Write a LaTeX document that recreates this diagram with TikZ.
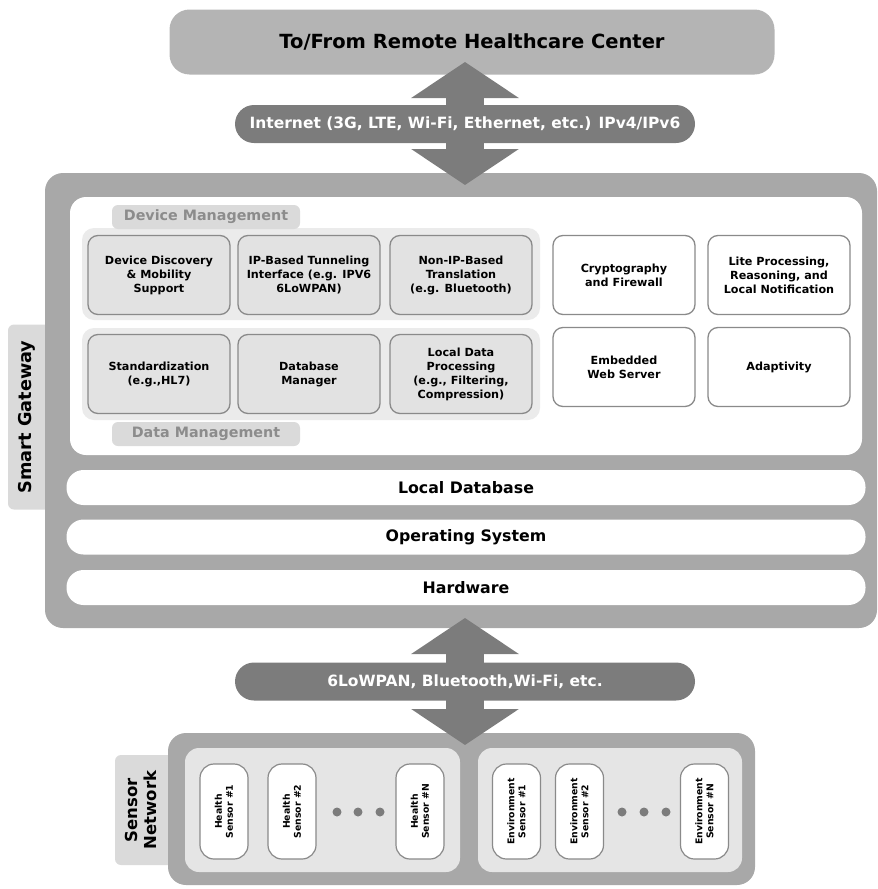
\documentclass[tikz,border=0pt]{standalone}
\usepackage{fontspec}
\setmainfont{DejaVu Sans}
\usepackage{tikz}
\usetikzlibrary{positioning, arrows.meta}

\definecolor{framegray}{HTML}{A8A8A8}
\definecolor{topgray}{HTML}{B4B4B4}
\definecolor{linkgray}{HTML}{7C7C7C}
\definecolor{tabgray}{HTML}{DADADA}
\definecolor{groupbg}{HTML}{EBEBEB}
\definecolor{boxfill}{HTML}{E2E2E2}
\definecolor{boxline}{HTML}{8A8A8A}
\definecolor{tabtext}{HTML}{8C8C8C}
\definecolor{panelgray}{HTML}{E5E5E5}

\tikzset{
  frame/.style={fill=framegray, rounded corners=18pt, inner sep=0pt},
  tab/.style={fill=tabgray, rounded corners=6pt, inner sep=0pt},
  group/.style={fill=groupbg, rounded corners=12pt, minimum width=458pt, minimum height=92pt},
  grouptab/.style={tab, text=tabtext, minimum width=188pt, minimum height=24pt, font=\bfseries\fontsize{14.3}{16}\selectfont},
  func/.style={draw=boxline, line width=1.3pt, rounded corners=10pt, minimum width=142pt, minimum height=79pt,
    align=center, inner sep=1pt, font=\bfseries\fontsize{11.2}{14}\selectfont},
  mgmt/.style={func, fill=boxfill},
  plain/.style={func, fill=white},
  layer/.style={fill=white, rounded corners=17pt, minimum width=799pt, minimum height=35pt,
    font=\bfseries\fontsize{15.8}{18}\selectfont},
  link/.style={fill=linkgray, text=white, rounded corners=19pt, minimum width=460pt, minimum height=38pt,
    font=\bfseries\fontsize{15.5}{17}\selectfont},
  twoway/.style={draw=linkgray, line width=38pt,
    {Triangle[length=36pt,width=106pt]}-{Triangle[length=36pt,width=106pt]}},
  sensor/.style={draw=boxline, line width=1.2pt, fill=white, rounded corners=14pt, rotate=90,
    minimum width=95pt, minimum height=48pt, align=center, inner sep=1pt,
    font=\bfseries\fontsize{9.3}{11}\selectfont},
  sdot/.style={circle, fill=linkgray, minimum size=9pt, inner sep=0pt}
}

\begin{document}
\begin{tikzpicture}[x=1pt, y=-1pt]
\useasboundingbox (0,0) rectangle (878,889);

% remote center
\node[fill=topgray, rounded corners=20pt, minimum width=605pt, minimum height=65pt,
  font=\bfseries\fontsize{19.5}{21}\selectfont] (RHC) at (472,42) {To/From Remote Healthcare Center};

% smart gateway frame
\node[tab, minimum width=50pt, minimum height=185pt] (SGtab) at (33,417) {};
\node[rotate=90, font=\bfseries\fontsize{17.7}{19}\selectfont] (SGlbl) at (26.5,417) {Smart Gateway};
\node[frame, minimum width=832pt, minimum height=455pt] (GW) at (461,400.5) {};

% internet link
\coordinate (u1) at (465,62);
\coordinate (u2) at (465,185);
\draw[twoway] (u1) -- (u2);
\node[link] (NET) at (465,124) {Internet (3G, LTE, Wi-Fi, Ethernet, etc.) IPv4/IPv6};

% services panel
\node[fill=white, rounded corners=16pt, minimum width=792pt, minimum height=258pt] (SRV) at (466,326) {};
\node[group] (DMg) at (311,274) {};
\node[group] (DAg) at (311,374) {};
\node[grouptab] (DMt) at (206,217) {Device Management};
\node[grouptab] (DAt) at (206,434) {Data Management};

% device management
\node[mgmt] (D1) at (159,275) {Device Discovery\\\& Mobility\\Support};
\node[mgmt] (D2) at (309,275) {IP-Based Tunneling\\Interface (e.g. IPV6\\6LoWPAN)};
\node[mgmt] (D3) at (461,275) {Non-IP-Based\\Translation\\(e.g. Bluetooth)};
% data management
\node[mgmt] (M1) at (159,374) {Standardization\\(e.g.,HL7)};
\node[mgmt] (M2) at (309,374) {Database\\Manager};
\node[mgmt] (M3) at (461,374) {Local Data\\Processing\\(e.g., Filtering,\\Compression)};
% other services
\node[plain] (S1) at (624,275) {Cryptography\\and Firewall};
\node[plain] (S2) at (779,275) {Lite Processing,\\Reasoning, and\\Local Notification};
\node[plain] (S3) at (624,367) {Embedded\\Web Server};
\node[plain] (S4) at (779,367) {Adaptivity};

% layers
\node[layer] (L1) at (466,487.5) {Local Database};
\node[layer] (L2) at (466,537) {Operating System};
\node[layer] (L3) at (466,587.5) {Hardware};

% sensor network frame
\node[tab, minimum width=70pt, minimum height=110pt] (SNtab) at (150,810) {};
\node[rotate=90, align=center, font=\bfseries\fontsize{16.5}{19}\selectfont] (SNlbl) at (141,810) {Sensor\\Network};
\node[frame, minimum width=587pt, minimum height=152pt] (SN) at (461.5,809) {};

% local link
\coordinate (w1) at (465,618);
\coordinate (w2) at (465,745);
\draw[twoway] (w1) -- (w2);
\node[link] (LOC) at (465,681.5) {6LoWPAN, Bluetooth,Wi-Fi, etc.};

% sensor groups
\node[fill=panelgray, rounded corners=14pt, minimum width=275pt, minimum height=124pt] (HP) at (322.5,810) {};
\node[fill=panelgray, rounded corners=14pt, minimum width=264pt, minimum height=124pt] (EP) at (610,810) {};

% health sensors
\node[sensor] (H1) at (224,811.5) {Health\\Sensor \#1};
\node[sensor] (H2) at (292,811.5) {Health\\Sensor \#2};
\node[sensor] (HN) at (420,811.5) {Health\\Sensor \#N};
\foreach \x in {337,358,380} \node[sdot] at (\x,812) {};
% environment sensors
\node[sensor] (E1) at (516.5,811.5) {Environment\\Sensor \#1};
\node[sensor] (E2) at (579.5,811.5) {Environment\\Sensor \#2};
\node[sensor] (EN) at (704.5,811.5) {Environment\\Sensor \#N};
\foreach \x in {622,644,666} \node[sdot] at (\x,812) {};
\end{tikzpicture}
\end{document}
